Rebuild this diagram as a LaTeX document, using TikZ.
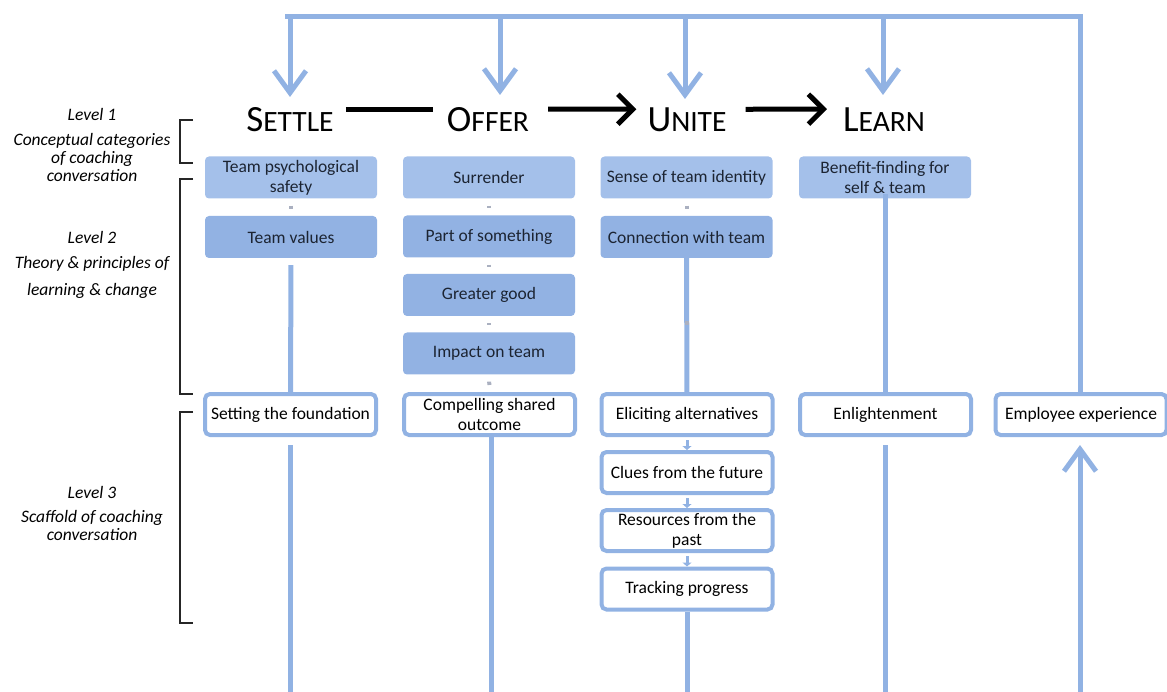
\documentclass[tikz,border=0pt]{standalone}
\usepackage{fontspec}
\setmainfont{Carlito}
\usetikzlibrary{arrows.meta,calc,positioning}
\definecolor{fbblue}{RGB}{145,178,227}
\definecolor{lvllight}{RGB}{164,192,234}
\definecolor{lvldark}{RGB}{146,178,227}
\definecolor{inktext}{RGB}{28,36,50}
\definecolor{stubgray}{RGB}{170,176,192}
\newcommand{\bigsc}[2]{{\fontsize{37}{37}\selectfont #1}{\fontsize{29.5}{29.5}\selectfont #2}}

\begin{document}
\begin{tikzpicture}[x=1pt,y=-1pt,
          every node/.style={font=\fontsize{17.5}{20}\selectfont, text=inktext},
          lvltwo/.style={fill=lvldark, rounded corners=4pt, minimum width=172pt,
                         minimum height=42pt, inner sep=2pt, align=center},
          lvlone/.style={lvltwo, fill=lvllight},
          lvlthree/.style={draw=fbblue, line width=4pt, fill=white, rounded corners=5pt,
                           minimum width=171pt, minimum height=41pt, inner sep=2pt,
                           align=center, text=black},
          title/.style={anchor=base, inner sep=0pt, text=black},
          lvltext/.style={font=\itshape\fontsize{17.5}{19.5}\selectfont, align=center, text=black},
          fb/.style={draw=fbblue, line width=5pt},
          fbarrow/.style={fb, -{Straight Barb[length=22pt,width=32pt]}},
          flow/.style={draw=black, line width=5pt},
          flowarrow/.style={flow, -{Straight Barb[length=15pt,width=30pt]}},
          stub/.style={draw=stubgray, line width=4pt, shorten <=7pt, shorten >=7pt},
          minitip/.style={draw=fbblue, line width=3pt, shorten <=3pt, shorten >=0pt,
                          -{Triangle[length=4pt,width=9pt]}},
          brk/.style={draw=black!85, line width=1.3pt}]
        \useasboundingbox (0,0) rectangle (1167,692);
        % level labels
        \node[lvltext] (lv1) at (92,114) {Level 1};
        \node[lvltext, anchor=north] (lv1t) at (92,130) {Conceptual categories\\[-1.5pt] of coaching\\[-1.5pt] conversation};
        \node[lvltext] (lv2) at (92,237) {Level 2};
        \node[lvltext, anchor=north] (lv2t) at (92,253) {Theory \& principles of\\[7pt] learning \& change};
        \node[lvltext] (lv3) at (92,492) {Level 3};
        \node[lvltext, anchor=north] (lv3t) at (92,507) {Scaffold of coaching\\[-1.5pt] conversation};
        % brackets
        \draw[brk] (193,120) -- (180,120) -- (180,163) -- (193,163);
        \draw[brk] (193,179) -- (180,179) -- (180,394) -- (193,394);
        \draw[brk] (193,412) -- (180,412) -- (180,623) -- (193,623);
        % level 1 titles
        \node[title] (settle) at (290,132) {\bigsc{S}{ETTLE}};
        \node[title] (offer)  at (488,132) {\bigsc{O}{FFER}};
        \node[title] (unite)  at (687,132) {\bigsc{U}{NITE}};
        \node[title] (learn)  at (884,132) {\bigsc{L}{EARN}};
        \draw[flow] (settle.east) ++(12,-11) coordinate (f1) -- ($(offer.west)+(-14,-11)$) coordinate (f2);
        \draw[flowarrow] ($(offer.east)+(19,-11)$) coordinate (f3) -- ($(unite.west)+(-11,-11)$) coordinate (f4);
        \draw[flowarrow] ($(unite.east)+(19,-11)$) coordinate (f5) -- ($(learn.west)+(-16,-11)$) coordinate (f6);
        % level 2 boxes
        \node[lvlone] (safety)   at (291,177.5) {Team psychological\\ safety};
        \node[lvltwo] (values)   at (291,237)   {Team values};
        \node[lvlone] (surr)     at (489,177.5) {Surrender};
        \node[lvltwo] (partof)   at (489,236.5) {Part of something};
        \node[lvltwo] (greater)  at (489,295)   {Greater good};
        \node[lvltwo] (impact)   at (489,353.5) {Impact on team};
        \node[lvlone] (identity) at (686.5,177.5) {Sense of team identity};
        \node[lvltwo] (connect)  at (686.5,237) {Connection with team};
        \node[lvlone] (benefit)  at (885,177.5) {Benefit-finding for\\ self \& team};
        % level 3 boxes
        \node[lvlthree] (found)    at (290.5,414.5) {Setting the foundation};
        \node[lvlthree] (compel)   at (489.5,414.5) {Compelling shared\\ outcome};
        \node[lvlthree] (elicit)   at (687,414.5)   {Eliciting alternatives};
        \node[lvlthree] (clues)    at (687,472.5)   {Clues from the future};
        \node[lvlthree] (resource) at (687,530.5)   {Resources from the\\ past};
        \node[lvlthree] (tracking) at (687,589)     {Tracking progress};
        \node[lvlthree] (enlight)  at (885.5,414.5) {Enlightenment};
        \node[lvlthree] (employee) at (1081,414.5)  {Employee experience};
        % feedback loop
        \coordinate (barS) at (290,17);  \coordinate (tipS) at (290,97);
        \coordinate (barO) at (500,17);  \coordinate (tipO) at (500,95);
        \coordinate (barU) at (685,17);  \coordinate (tipU) at (685,99);
        \coordinate (barL) at (883,17);  \coordinate (tipL) at (883,95);
        \coordinate (barE) at (1080,17);
        \draw[fb] (285,17) coordinate (barW) -- (barE) -- (barE |- employee.north);
        \foreach \c in {S,O,U,L} \draw[fbarrow] (bar\c) -- (tip\c);
        \draw[fbarrow] (1080,692) coordinate (botE) -- ($(employee.south)+(-1,8)$);
        % columns
        \draw[fb, shorten <=7pt] (values) -- (found);
        \draw[fb, shorten <=8pt] (found.south) -- (found.south |- 0,692);
        \draw[fb] (compel.south) ++(2,0) -- ($(compel.south |- 0,692)+(2,0)$);
        \draw[fb] (connect) -- (elicit);
        \draw[fb] (tracking.south) -- (tracking.south |- 0,692);
        \draw[fb] (benefit.center) ++(0,17) -- (enlight.north -| benefit.center);
        \draw[fb, shorten <=8pt] (enlight.south) -- (enlight.south |- 0,692);
        % small links
        \draw[stub] (safety) -- (values);
        \draw[stub] (surr) -- (partof);
        \draw[stub] (partof) -- (greater);
        \draw[stub] (greater) -- (impact);
        \draw[stub] (impact.south) -- (compel.north);
        \draw[stub] (identity) -- (connect);
        \fill[stubgray] (684.5,321.5) rectangle ++(4,4);
        \draw[minitip] (elicit) -- (clues);
        \draw[minitip] (clues) -- (resource);
        \draw[minitip] (resource) -- (tracking);
      \end{tikzpicture}
\end{document}
